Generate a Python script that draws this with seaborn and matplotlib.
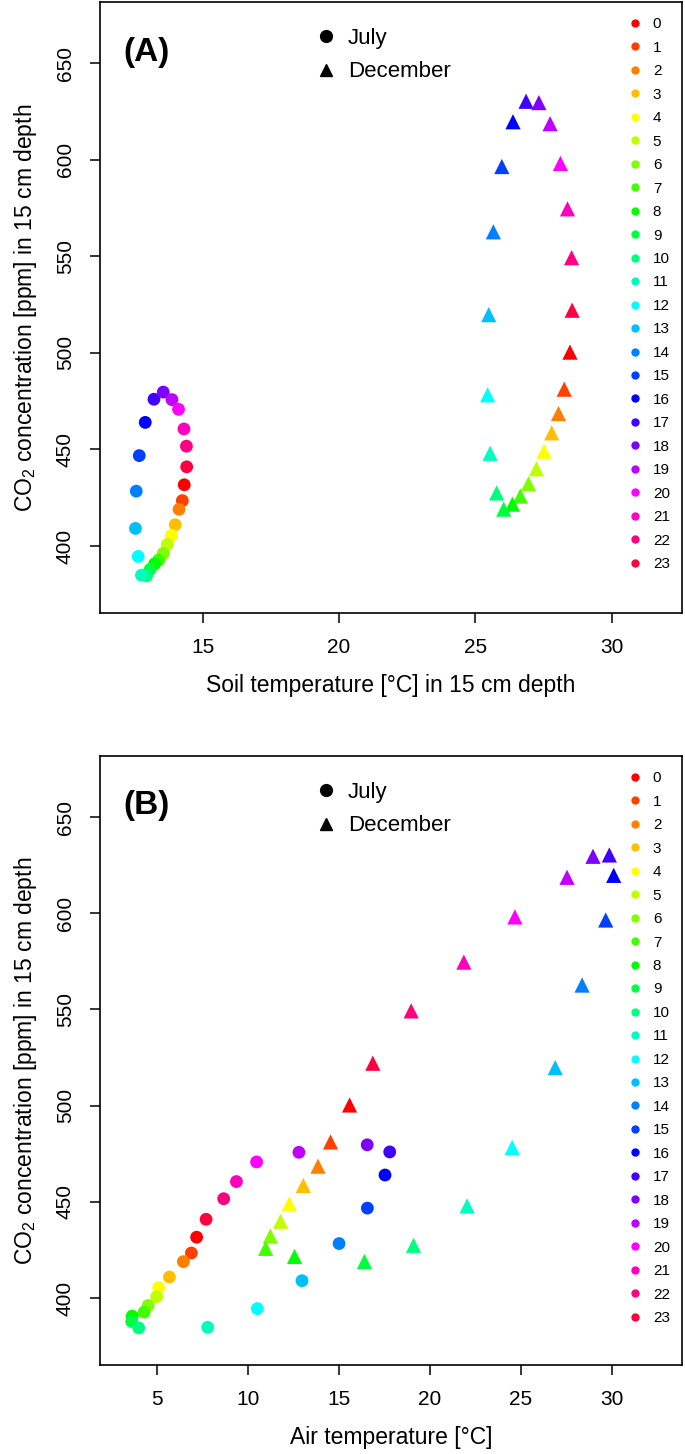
import colorsys
import pandas as pd
import seaborn as sns
from matplotlib import pyplot as plt
from matplotlib.lines import Line2D

hours = list(range(24))

# CO2 [ppm] in 15 cm depth, hourly means
co2_july = [431.7, 423.5, 419.0, 411.0, 405.5, 400.8, 396.2, 392.8, 390.7, 387.9, 384.6, 384.9,
            394.6, 409.1, 428.4, 446.8, 464.0, 476.0, 479.7, 475.8, 470.8, 460.6, 451.7, 441.0]
co2_dec = [500.4, 481.2, 468.6, 458.6, 449.1, 440.0, 432.3, 425.9, 421.7, 419.1, 427.5, 448.0,
           478.3, 519.8, 562.7, 596.5, 619.7, 630.3, 629.6, 618.7, 598.1, 574.6, 549.3, 522.1]

# soil temperature in 15 cm depth
soil_july = [14.32, 14.25, 14.13, 13.99, 13.85, 13.70, 13.55, 13.39, 13.23, 13.07, 12.94, 12.75,
             12.63, 12.53, 12.56, 12.67, 12.89, 13.21, 13.55, 13.87, 14.11, 14.31, 14.40, 14.41]
soil_dec = [28.47, 28.26, 28.05, 27.80, 27.52, 27.24, 26.95, 26.65, 26.36, 26.04, 25.78, 25.54,
            25.45, 25.49, 25.66, 25.97, 26.38, 26.86, 27.33, 27.74, 28.12, 28.38, 28.53, 28.55]

# air temperature
air_july = [7.16, 6.87, 6.43, 5.66, 5.07, 4.96, 4.49, 4.27, 3.61, 3.59, 3.97, 7.77,
            10.50, 12.96, 15.00, 16.56, 17.53, 17.79, 16.55, 12.79, 10.46, 9.35, 8.65, 7.68]
air_dec = [15.58, 14.53, 13.84, 13.03, 12.26, 11.78, 11.22, 10.96, 12.55, 16.40, 19.10, 22.05,
           24.53, 26.90, 28.38, 29.68, 30.12, 29.88, 28.98, 27.55, 24.68, 21.87, 18.97, 16.86]

colors = {h: colorsys.hsv_to_rgb(h / 24, 1, 1) for h in hours}

sns.set_theme(style="ticks")
plt.rcParams["font.family"] = ["Liberation Sans", "DejaVu Sans"]
plt.rcParams["mathtext.fontset"] = "custom"
plt.rcParams["mathtext.rm"] = "Liberation Sans"
plt.rcParams["mathtext.it"] = "Liberation Sans:italic"
plt.rcParams["mathtext.bf"] = "Liberation Sans:bold"
for key in ["text.color", "axes.labelcolor", "xtick.color", "ytick.color", "axes.edgecolor"]:
    plt.rcParams[key] = "black"

fig = plt.figure(figsize=(6.85, 14.54), dpi=100)
ax_a = fig.add_axes([100 / 685, 1 - 613 / 1454, 582 / 685, 611 / 1454])
ax_b = fig.add_axes([100 / 685, 1 - 1365 / 1454, 582 / 685, 609 / 1454])


def panel(ax, t_july, t_dec, tag, xlabel, xlim, xticks):
    july = pd.DataFrame({"hour": hours, "temp": t_july, "co2": co2_july})
    dec = pd.DataFrame({"hour": hours, "temp": t_dec, "co2": co2_dec})
    sns.scatterplot(data=july, x="temp", y="co2", hue="hour", palette=colors, marker="o",
                    s=85, linewidth=0, legend=False, ax=ax)
    sns.scatterplot(data=dec, x="temp", y="co2", hue="hour", palette=colors, marker="^",
                    s=120, linewidth=0, legend=False, ax=ax)

    ax.set_xlim(*xlim)
    ax.set_ylim(365.3, 681.7)
    ax.set_xticks(xticks)
    ax.set_yticks([400, 450, 500, 550, 600, 650])
    ax.tick_params(length=7, width=1.1, pad=11, labelsize=15)
    for lab in ax.get_yticklabels():
        lab.set_rotation(90)
        lab.set_va("center")
    for sp in ax.spines.values():
        sp.set_visible(True)
        sp.set_linewidth(1.2)

    ax.set_xlabel(xlabel, fontsize=16.5, labelpad=12)
    ax.set_ylabel("CO$_2$ concentration [ppm] in 15 cm depth", fontsize=16.5, labelpad=12)

    ax.text(0.0395, 0.918, tag, transform=ax.transAxes, fontsize=24, fontweight="bold",
            ha="left", va="center")

    month_handles = [
        Line2D([], [], marker="o", color="black", linestyle="", markersize=8.5),
        Line2D([], [], marker="^", color="black", linestyle="", markersize=8.5),
    ]
    leg1 = ax.legend(month_handles, ["July", "December"], loc="upper left",
                     bbox_to_anchor=(0.369, 0.957), frameon=False, fontsize=16,
                     handlelength=1, handletextpad=0.49, labelspacing=0.55,
                     borderpad=0, borderaxespad=0)
    ax.add_artist(leg1)

    hour_handles = [Line2D([], [], marker="o", color=colors[h], linestyle="", markersize=5)
                    for h in hours]
    ax.legend(hour_handles, [str(h) for h in hours], loc="upper left",
              bbox_to_anchor=(0.906, 0.975), frameon=False, fontsize=11,
              handlelength=1, handletextpad=0.67, labelspacing=0.62,
              borderpad=0, borderaxespad=0)


panel(ax_a, soil_july, soil_dec, "(A)", "Soil temperature [°C] in 15 cm depth",
      (11.23, 32.58), [15, 20, 25, 30])
panel(ax_b, air_july, air_dec, "(B)", "Air temperature [°C]",
      (1.84, 33.88), [5, 10, 15, 20, 25, 30])

fig.savefig("out.png", dpi=100)
